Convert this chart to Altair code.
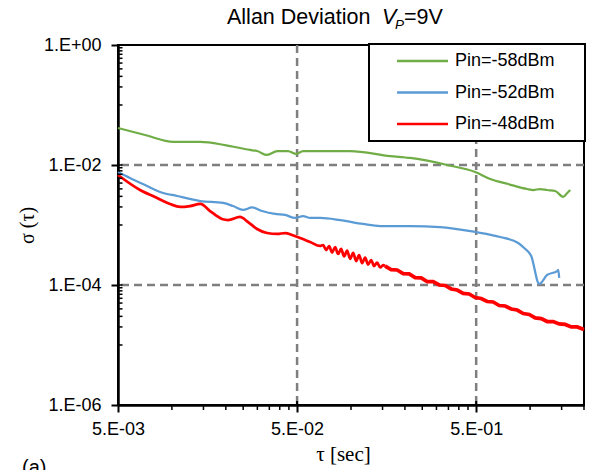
import altair as alt
import pandas as pd

# ---------------- data ----------------
series_names = ["Pin=-58dBm", "Pin=-52dBm", "Pin=-48dBm"]
series_colors = ["#70AD47", "#5B9BD5", "#FF0000"]

green_tau = [0.005, 0.00708, 0.0102, 0.0144, 0.0198, 0.0273, 0.0299, 0.0340, 0.0387,
             0.0445, 0.0494, 0.0540, 0.0989, 0.1654, 0.2139, 0.3443, 0.4936, 0.5987,
             0.7546, 0.9636, 1.041, 1.139, 1.246, 1.381, 1.531, 1.612, 1.675]
green_sigma = [0.0414, 0.0316, 0.0242, 0.0242, 0.0215, 0.0178, 0.0171, 0.0147, 0.0171,
               0.0171, 0.0153, 0.0171, 0.0171, 0.0141, 0.0131, 0.0100, 0.00764, 0.00584,
               0.00482, 0.00398, 0.00383, 0.00398, 0.00383, 0.00369, 0.00295, 0.00342, 0.00383]

blue_tau = [0.005, 0.00583, 0.00708, 0.00859, 0.0107, 0.0144, 0.0193, 0.02195, 0.0250,
            0.0280, 0.0319, 0.0377, 0.0429, 0.0487, 0.0540, 0.0591, 0.0672, 0.0869,
            0.1168, 0.1455, 0.2139, 0.3147, 0.4936, 0.6809, 0.8582, 0.9273, 1.0146,
            1.125, 1.246, 1.417, 1.436, 1.454]
blue_sigma = [0.00764, 0.00607, 0.00464, 0.00355, 0.00304, 0.00251, 0.00233, 0.00207, 0.00178,
              0.00196, 0.00171, 0.00153, 0.00147, 0.00131, 0.00141, 0.00131, 0.00131, 0.00121,
              0.00104, 0.000962, 0.000962, 0.000926, 0.000764, 0.000631, 0.000501, 0.000414,
              0.000304, 0.000104, 0.000147, 0.000171, 0.000178, 0.000131]

red_tau = [0.005, 0.00664, 0.00805, 0.00976, 0.0111, 0.01263, 0.0144, 0.01633, 0.01905,
           0.0206, 0.0240, 0.02663, 0.0299, 0.0340, 0.0387, 0.0429, 0.0469, 0.0520,
           0.0591, 0.0672,
           0.06987, 0.07261, 0.07546, 0.07843, 0.08153, 0.08473, 0.08806, 0.09152,
           0.09512, 0.09888, 0.1028, 0.1068, 0.1110, 0.1154, 0.1199, 0.1246, 0.1295,
           0.1346, 0.1399, 0.1455, 0.1512, 0.1551]
red_sigma = [0.00681, 0.00383, 0.00293, 0.00224, 0.00200, 0.00207, 0.00224, 0.00171, 0.00126,
             0.00121, 0.00136, 0.00112, 0.000858, 0.000735, 0.000708, 0.000735, 0.000681, 0.000607,
             0.000521, 0.000447,
             0.000461, 0.000383, 0.000443, 0.000348, 0.000427, 0.000329, 0.000400, 0.000299,
             0.000374, 0.000273, 0.000343, 0.000251, 0.000315, 0.000231, 0.000286, 0.000219,
             0.000261, 0.000207, 0.000237, 0.000196, 0.000215, 0.000207]

red_noisy_tau = [0.1551, 0.1675, 0.1810, 0.1955, 0.2112, 0.2282, 0.2465, 0.2663, 0.2876,
                 0.3107, 0.3356, 0.3625, 0.3916, 0.4230, 0.4569, 0.4936, 0.5332, 0.5760,
                 0.6223, 0.6722, 0.7261, 0.7844, 0.8474, 0.9154, 0.9888, 1.068, 1.154,
                 1.246, 1.346, 1.454, 1.571, 1.697, 1.833, 2.0]
red_noisy_sigma = [0.000207, 0.000181, 0.000178, 0.000155, 0.000153, 0.000133, 0.000131,
                   0.000114, 0.000114, 0.000100, 0.0000981, 0.0000858, 0.0000825, 0.0000722,
                   0.0000708, 0.0000619, 0.0000596, 0.0000531, 0.0000521, 0.0000455, 0.0000447,
                   0.0000398, 0.0000383, 0.0000335, 0.0000323, 0.0000282, 0.0000276, 0.0000246,
                   0.0000246, 0.0000224, 0.0000220, 0.0000200, 0.0000200, 0.0000181]

x_major = [0.005, 0.05, 0.5]
x_minor = [0.01, 0.015, 0.02, 0.025, 0.03, 0.035, 0.04, 0.045,
           0.1, 0.15, 0.2, 0.25, 0.3, 0.35, 0.4, 0.45, 1.0, 1.5, 2.0]
x_grid = [0.05, 0.5]
y_major = [1, 0.01, 0.0001, 0.000001]
y_minor = [0.9, 0.8, 0.7, 0.6, 0.5, 0.4, 0.3, 0.2, 0.1,
           0.009, 0.008, 0.007, 0.006, 0.005, 0.004, 0.003, 0.002, 0.001,
           0.00009, 0.00008, 0.00007, 0.00006, 0.00005, 0.00004, 0.00003, 0.00002, 0.00001]
y_grid = [0.01, 0.0001]

# ---------------- tables ----------------
frames = []
for name, tau, sig, w in [
    (series_names[0], green_tau, green_sigma, 2.25),
    (series_names[1], blue_tau, blue_sigma, 2.25),
    (series_names[2], red_tau, red_sigma, 2.75),
]:
    frames.append(pd.DataFrame({"tau": tau, "sigma": sig, "series": name, "w": w}))
df = pd.concat(frames, ignore_index=True)
df_noisy = pd.DataFrame({"tau": red_noisy_tau, "sigma": red_noisy_sigma,
                         "series": series_names[2], "w": 3.75})

xscale = alt.Scale(type="log", domain=[0.005, 2.0], nice=False)
yscale = alt.Scale(type="log", domain=[0.000001, 1], nice=False)

FONT = "Liberation Sans"
SERIF = "Liberation Serif"

xaxis = alt.Axis(
    values=x_major,
    labelExpr="'5.E-' + format(-floor(log(datum.value)/LN10 + 1e-9), '02d')",
    labelFlush=False, labelOverlap=False,
    labelFont=FONT, labelFontSize=18, labelColor="black", labelPadding=8,
    tickSize=7, tickWidth=2, tickColor="black",
    domainColor="black", domainWidth=2.5, grid=False,
    title="τ [sec]", titleFont=SERIF, titleFontSize=21, titleFontWeight="normal",
    titleColor="black", titleX=225, titleY=55, titleAlign="center", titleBaseline="alphabetic",
)
yaxis = alt.Axis(
    values=y_major,
    labelExpr="'1.E' + (round(log(datum.value)/LN10) < 0 ? '-' : '+') + format(abs(round(log(datum.value)/LN10)), '02d')",
    labelOverlap=False,
    labelFont=FONT, labelFontSize=18, labelColor="black", labelPadding=10,
    tickSize=7, tickWidth=2, tickColor="black",
    domainColor="black", domainWidth=2.5, grid=False,
    title="σ (τ)", titleFont=SERIF, titleFontSize=20, titleFontWeight="normal",
    titleColor="black", titleX=-91, titleY=180, titleAngle=270,
    titleAlign="center", titleBaseline="middle",
)

legend = alt.Legend(
    orient="none", legendX=251, legendY=-2, title=None,
    symbolType="M-3,0L3,0", symbolSize=289, symbolStrokeWidth=2.5,
    symbolOffset=35.5, labelOffset=22.5,
    labelFont=FONT, labelFontSize=18, labelColor="black",
    padding=8, rowPadding=12.5,
)
color = alt.Color("series:N", scale=alt.Scale(domain=series_names, range=series_colors),
                  sort=series_names, legend=legend)

X = alt.X("tau:Q", scale=xscale, axis=xaxis)
Y = alt.Y("sigma:Q", scale=yscale, axis=yaxis)

# grid
grid_x = alt.Chart(pd.DataFrame({"tau": x_grid})).mark_rule(
    color="#7f7f7f", strokeWidth=2.5, strokeDash=[8, 5]).encode(x=X)
grid_y = alt.Chart(pd.DataFrame({"sigma": y_grid})).mark_rule(
    color="#7f7f7f", strokeWidth=2.5, strokeDash=[8, 5]).encode(y=Y)

lines = alt.Chart(df).mark_line(interpolate="monotone").encode(
    x=X, y=Y, color=color,
    strokeWidth=alt.StrokeWidth("w:Q", scale=None, legend=None),
)
noisy = alt.Chart(df_noisy).mark_line(interpolate="linear").encode(
    x=X, y=Y, color=color,
    strokeWidth=alt.StrokeWidth("w:Q", scale=None, legend=None),
)

# legend frame
one = pd.DataFrame({"k": [0]})
frame = alt.Chart(one).mark_rect(fill="white", stroke="black", strokeWidth=2).encode(
    x=alt.value(251), x2=alt.value(467), y=alt.value(-1), y2=alt.value(96))

# minor / inner ticks
y_in = alt.Chart(pd.DataFrame({"sigma": y_major + y_minor})).mark_rule(color="black", strokeWidth=1.5).encode(
    y=Y, x=alt.value(0), x2=alt.value(4.5))
x_out = alt.Chart(pd.DataFrame({"tau": x_minor})).mark_rule(color="black", strokeWidth=1.5).encode(
    x=X, y=alt.value(360), y2=alt.value(365))
x_in = alt.Chart(pd.DataFrame({"tau": x_major})).mark_rule(color="black", strokeWidth=2).encode(
    x=X, y=alt.value(356), y2=alt.value(360))

# title pieces and panel tag
def txt(s, x, y, size, style="normal", align="left", baseline="alphabetic"):
    return alt.Chart(one).mark_text(
        text=s, align=align, baseline=baseline, font=FONT, fontSize=size,
        fontStyle=style, color="black").encode(x=alt.value(x), y=alt.value(y))

t1 = txt("Allan Deviation", 109, -21, 21.5)
t2 = txt("V", 264, -21, 21.5, "italic")
t3 = txt("P", 277, -16, 13.5, "italic")
t4 = txt("=9V", 286, -21, 21.5)
t5 = txt("(a)", -96, 413, 20, baseline="top")

chart = alt.layer(grid_x, grid_y, lines, noisy, frame, y_in, x_out, x_in,
                  t1, t2, t3, t4, t5).properties(
    width=466, height=360,
    autosize=alt.AutoSizeParams(type="none"),
    padding={"left": 110, "top": 37, "right": 3, "bottom": 70},
    background="white",
).configure_view(stroke="black", strokeWidth=2)

chart.save("out.html", embed_options={"renderer": "svg", "actions": False})
